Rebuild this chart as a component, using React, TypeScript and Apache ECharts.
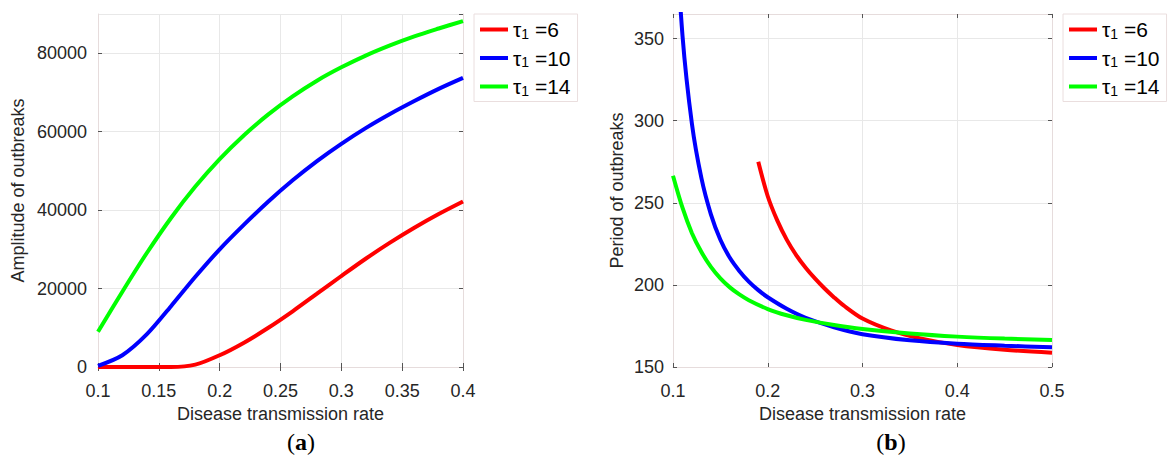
import React, { useEffect, useRef } from "react";
import * as echarts from "echarts";

// ---------- data ----------
const seriesNames = ["τ1 =6", "τ1 =10", "τ1 =14"];
const seriesColors = ["#ff0000", "#0000ff", "#00ff00"];

// (a) Amplitude of outbreaks vs disease transmission rate
const ampX = [0.1, 0.12, 0.14, 0.16, 0.18, 0.2, 0.22, 0.24, 0.26, 0.28, 0.3, 0.32, 0.34, 0.36, 0.38, 0.4];
const ampTau6 = [0, 0, 0, 0, 600, 3000, 6200, 10000, 14200, 18700, 23200, 27600, 31700, 35500, 39000, 42200];
const ampTau10 = [300, 3000, 8300, 15500, 23000, 30000, 36300, 42200, 47600, 52500, 56900, 60900, 64500, 67800, 70900, 73700];
const ampTau14 = [9000, 19200, 29000, 38000, 46000, 53000, 59100, 64400, 69000, 73000, 76400, 79400, 82000, 84300, 86300, 88200];

// (b) Period of outbreaks vs disease transmission rate
const perX6 = [0.19, 0.2, 0.21, 0.22, 0.23, 0.24, 0.25, 0.26, 0.27, 0.28, 0.3, 0.33, 0.36, 0.4, 0.45, 0.5];
const perTau6 = [275, 254, 239.3, 227.6, 218.2, 210.5, 203.8, 197.8, 192.4, 187.5, 179.5, 172.3, 167.6, 163.4, 160.5, 158.7];
const perX10 = [0.1, 0.11, 0.12, 0.13, 0.14, 0.15, 0.16, 0.17, 0.18, 0.19, 0.2, 0.22, 0.24, 0.27, 0.3, 0.35, 0.4, 0.45, 0.5];
const perTau10 = [445, 352, 298, 265, 243, 227.5, 216.5, 208.5, 202, 196.8, 192.5, 185.5, 180, 174.2, 170, 166.3, 164.2, 163, 162];
const perX14 = [0.1, 0.11, 0.12, 0.13, 0.14, 0.15, 0.16, 0.17, 0.18, 0.2, 0.22, 0.24, 0.27, 0.3, 0.35, 0.4, 0.45, 0.5];
const perTau14 = [266.5, 247, 231.5, 220, 211, 204, 198.5, 194.2, 190.7, 185.3, 181.5, 178.7, 175.6, 173.2, 170.4, 168.5, 167.3, 166.5];

const xTitle = "Disease transmission rate";
const yTitleA = "Amplitude of outbreaks";
const yTitleB = "Period of outbreaks";
const panelA = "a";
const panelB = "b";

const zip = (xs: number[], ys: number[]) => xs.map((x, i) => [x, ys[i]]);

const FONT = "Liberation Sans";
const TXT = "#262626";
const AXLINE = "#e6dcdc";
const GRIDC = "#e8e8e8";

function mainX(gridIndex: number, min: number, max: number, interval: number, nameGap: number) {
  return {
    type: "value",
    gridIndex,
    min,
    max,
    interval,
    position: "bottom",
    name: xTitle,
    nameLocation: "middle",
    nameGap,
    nameTextStyle: { fontSize: 18, color: TXT, fontFamily: FONT },
    axisLine: { show: true, lineStyle: { color: AXLINE, width: 1 } },
    axisTick: { show: true, inside: true, length: 4, lineStyle: { color: "#555" } },
    axisLabel: {
      fontSize: 18,
      color: TXT,
      fontFamily: FONT,
      margin: 15,
      formatter: (v: number) => String(+v.toFixed(2)),
    },
    splitLine: { show: true, lineStyle: { color: GRIDC, width: 1 } },
  };
}
function topX(gridIndex: number, min: number, max: number, interval: number) {
  return {
    type: "value",
    gridIndex,
    min,
    max,
    interval,
    position: "top",
    axisLine: { show: true, lineStyle: { color: AXLINE, width: 1 } },
    axisTick: { show: true, inside: true, length: 4, lineStyle: { color: "#555" } },
    axisLabel: { show: false },
    splitLine: { show: false },
  };
}
function mainY(gridIndex: number, min: number, max: number, interval: number, name: string, nameGap: number, margin: number) {
  return {
    type: "value",
    gridIndex,
    min,
    max,
    interval,
    position: "left",
    name,
    nameLocation: "middle",
    nameGap,
    nameTextStyle: { fontSize: 18, color: TXT, fontFamily: FONT },
    axisLine: { show: true, lineStyle: { color: AXLINE, width: 1 } },
    axisTick: { show: true, inside: true, length: 4, lineStyle: { color: "#555" } },
    axisLabel: {
      fontSize: 18,
      color: TXT,
      fontFamily: FONT,
      margin,
      showMaxLabel: false,
      formatter: (v: number) => String(Math.round(v)),
    },
    splitLine: { show: true, lineStyle: { color: GRIDC, width: 1 } },
  };
}
function rightY(gridIndex: number, min: number, max: number, interval: number) {
  return {
    type: "value",
    gridIndex,
    min,
    max,
    interval,
    position: "right",
    axisLine: { show: true, lineStyle: { color: AXLINE, width: 1 } },
    axisTick: { show: true, inside: true, length: 4, lineStyle: { color: "#555" } },
    axisLabel: { show: false },
    splitLine: { show: false },
  };
}

function legendAt(left: number) {
  return {
    orient: "vertical",
    left,
    top: 14,
    data: seriesNames,
    icon: "rect",
    itemWidth: 28,
    itemHeight: 4,
    itemGap: 7,
    itemStyle: { borderWidth: 0 },
    itemTextGap: 5,
    padding: [5, 7, 4, 6],
    borderColor: "#eadede",
    borderWidth: 1,
    backgroundColor: "#ffffff",
    selectedMode: false,
    formatter: (name: string) => `{t|τ}{s|1}{t| =${name.split("=")[1]}}`,
    textStyle: {
      fontFamily: FONT,
      color: "#000",
      rich: {
        t: { fontSize: 21, lineHeight: 22, fontFamily: FONT, color: "#000" },
        s: { fontSize: 14, lineHeight: 12, fontFamily: FONT, color: "#000", verticalAlign: "bottom" },
      },
    },
  };
}

function panelLabel(cx: number, letter: string) {
  return {
    type: "text",
    x: cx,
    y: 442,
    style: {
      text: `{p|(}{b|${letter}}{p|)}`,
      align: "center",
      verticalAlign: "middle",
      rich: {
        p: { fontSize: 24, fontFamily: "Liberation Serif", color: "#000" },
        b: { fontSize: 24, fontFamily: "Liberation Serif", fontWeight: "bold", color: "#000" },
      },
    },
  };
}

export default function App() {
  const ref = useRef<HTMLDivElement>(null);
  useEffect(() => {
    if (!ref.current) return;
    const chart = echarts.init(ref.current, undefined, { renderer: "svg" });
    const lineSeries = (name: string, color: string, data: number[][], xi: number, yi: number) => ({
      type: "line",
      name,
      data,
      xAxisIndex: xi,
      yAxisIndex: yi,
      showSymbol: false,
      smooth: 0.3,
      clip: true,
      color,
      lineStyle: { color, width: 4 },
      emphasis: { disabled: true },
    });
    chart.setOption({
      animation: false,
      backgroundColor: "#ffffff",
      textStyle: { fontFamily: FONT },
      grid: [
        { left: 98, top: 14, width: 365, height: 353 },
        { left: 673, top: 14, width: 379, height: 353 },
      ],
      xAxis: [
        mainX(0, 0.1, 0.4, 0.05, 35),
        topX(0, 0.1, 0.4, 0.05),
        mainX(1, 0.1, 0.5, 0.1, 35),
        topX(1, 0.1, 0.5, 0.1),
      ],
      yAxis: [
        mainY(0, 0, 90000, 20000, yTitleA, 71, 11),
        rightY(0, 0, 90000, 20000),
        mainY(1, 150, 365, 50, yTitleB, 47, 9),
        rightY(1, 150, 365, 50),
      ],
      legend: [legendAt(474), legendAt(1063)],
      series: [
        lineSeries(seriesNames[0], seriesColors[0], zip(ampX, ampTau6), 0, 0),
        lineSeries(seriesNames[1], seriesColors[1], zip(ampX, ampTau10), 0, 0),
        lineSeries(seriesNames[2], seriesColors[2], zip(ampX, ampTau14), 0, 0),
        lineSeries(seriesNames[0], seriesColors[0], zip(perX6, perTau6), 2, 2),
        lineSeries(seriesNames[1], seriesColors[1], zip(perX10, perTau10), 2, 2),
        lineSeries(seriesNames[2], seriesColors[2], zip(perX14, perTau14), 2, 2),
      ],
      graphic: [panelLabel(301, panelA), panelLabel(891, panelB)],
    });
    return () => chart.dispose();
  }, []);
  return (
    <div
      ref={ref}
      style={{ position: "absolute", left: 0, top: 0, width: 1168, height: 455, background: "#fff" }}
    />
  );
}
